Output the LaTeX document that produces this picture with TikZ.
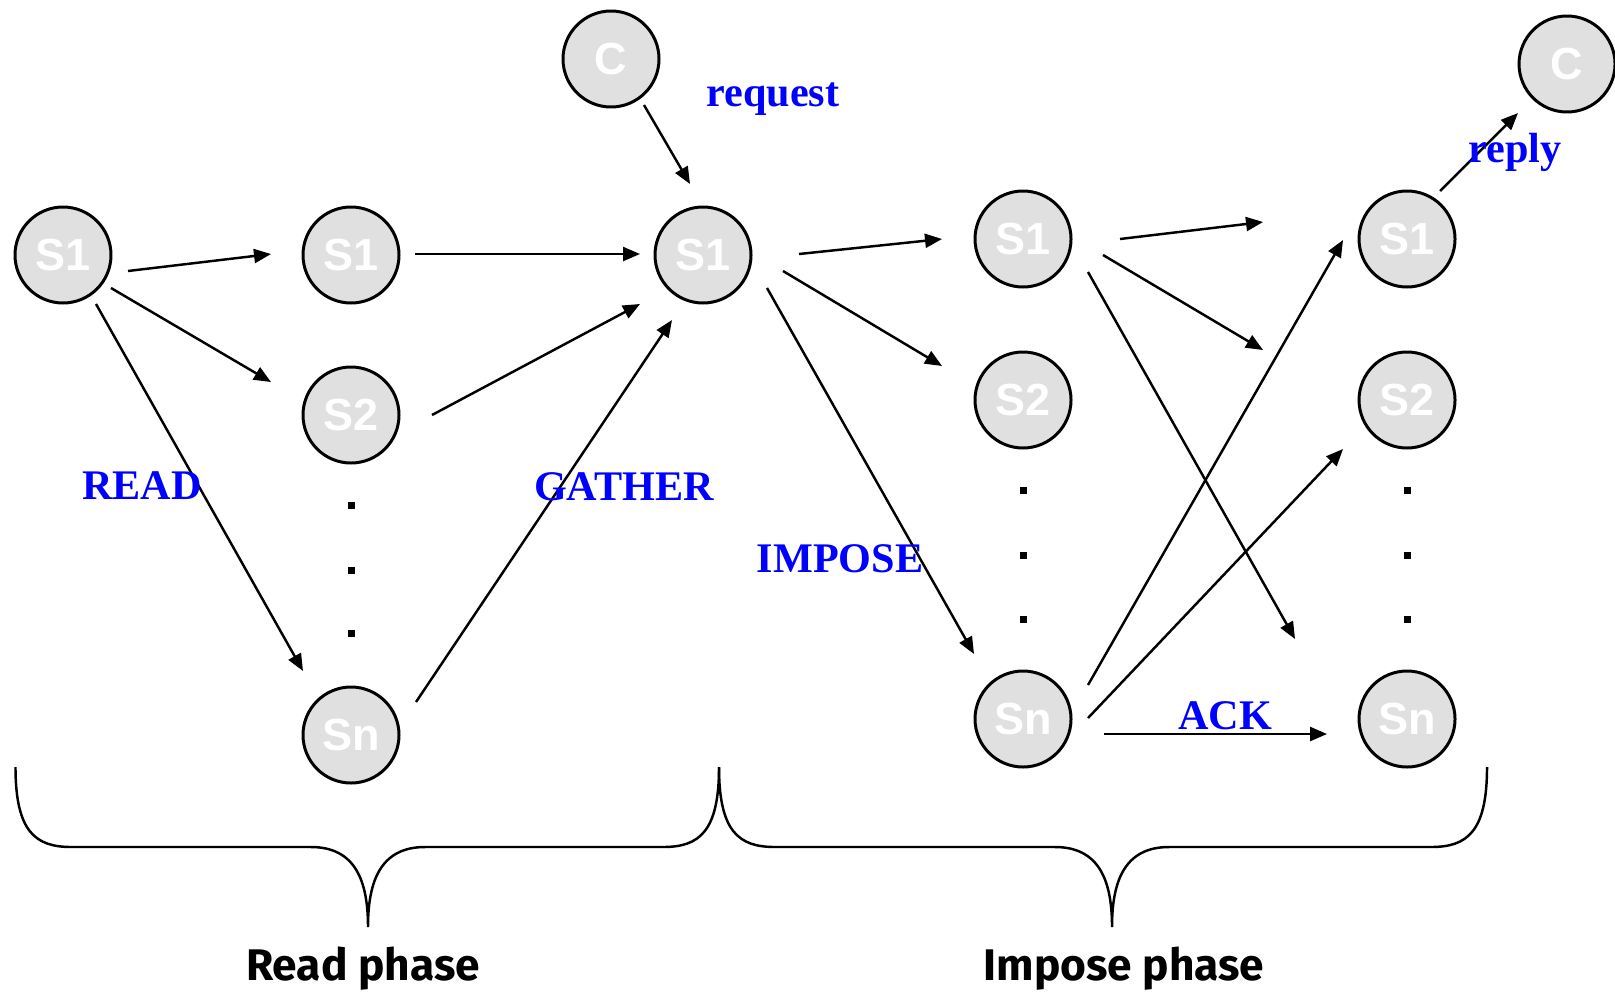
\documentclass[tikz,border=0pt]{standalone}
\usepackage{fontspec}
\setmainfont{Liberation Serif}
\setsansfont{Liberation Sans}
\newfontfamily\phasefont{Fira Sans}
\usepackage{tikz}
\usetikzlibrary{arrows.meta}
\definecolor{NodeGray}{HTML}{E0E0E0}
\definecolor{MsgBlue}{HTML}{0000FF}

\begin{document}
\begin{tikzpicture}[x=1cm,y=1cm,
    srv/.style={circle,draw,line width=0.85pt,fill=NodeGray,minimum size=0.96cm,inner sep=0pt,
      text=white,font=\sffamily\bfseries\fontsize{12.8}{14}\selectfont},
    msg/.style={-{Triangle[length=0.17cm,width=0.14cm]},line width=0.7pt},
    lbl/.style={text=MsgBlue,font=\bfseries\fontsize{12}{14}\selectfont,inner sep=0pt},
    phase/.style={font=\phasefont\bfseries\fontsize{12.6}{15}\selectfont,inner sep=0pt}]
    \useasboundingbox (0,0) rectangle (16.15,9.92);
    % servers and clients
    \node[srv] (sA1) at (0.63,7.37) {S1};
    \node[srv] (sB1) at (3.51,7.37) {S1};
    \node[srv] (sB2) at (3.51,5.77) {S2};
    \node[srv] (sBn) at (3.51,2.57) {Sn};
    \node[srv] (cL) at (6.11,9.33) {C};
    \node[srv] (sC1) at (7.03,7.37) {S1};
    \node[srv] (sD1) at (10.23,7.53) {S1};
    \node[srv] (sD2) at (10.23,5.92) {S2};
    \node[srv] (sDn) at (10.23,2.73) {Sn};
    \node[srv] (sE1) at (14.07,7.53) {S1};
    \node[srv] (sE2) at (14.07,5.92) {S2};
    \node[srv] (sEn) at (14.07,2.73) {Sn};
    \node[srv] (cR) at (15.67,9.28) {C};
    \foreach \y in {4.87,4.22,3.59}
      \fill (3.475,\y-0.035) rectangle ++(0.07,0.07);
    \foreach \y in {5.02,4.37,3.73}{
      \fill (10.195,\y-0.035) rectangle ++(0.07,0.07);
      \fill (14.035,\y-0.035) rectangle ++(0.07,0.07);}
    % read phase
    \draw[msg] ([shift={(0.65,-0.16)}]sA1.center) -- ([shift={(-0.80,0.01)}]sB1.center);
    \draw[msg] ([shift={(0.48,-0.33)}]sA1.center) -- ([shift={(-0.80,0.33)}]sB2.center);
    \draw[msg] ([shift={(0.33,-0.49)}]sA1.center) -- ([shift={(-0.48,0.64)}]sBn.center);
    \draw[msg] ([shift={(0.64,0.01)}]sB1.center) -- ([shift={(-0.63,0.01)}]sC1.center);
    \draw[msg] ([shift={(0.81,0)}]sB2.center) -- ([shift={(-0.63,-0.49)}]sC1.center);
    \draw[msg] ([shift={(0.65,0.33)}]sBn.center) -- ([shift={(-0.31,-0.65)}]sC1.center);
    \draw[msg] ([shift={(0.33,-0.46)}]cL.center) -- ([shift={(-0.13,0.71)}]sC1.center);
    % impose phase
    \draw[msg] ([shift={(0.96,0.01)}]sC1.center) -- ([shift={(-0.81,0)}]sD1.center);
    \draw[msg] ([shift={(0.80,-0.16)}]sC1.center) -- ([shift={(-0.81,0.34)}]sD2.center);
    \draw[msg] ([shift={(0.64,-0.33)}]sC1.center) -- ([shift={(-0.49,0.65)}]sDn.center);
    \draw[msg] ([shift={(0.97,0)}]sD1.center) -- ([shift={(-1.44,0.17)}]sE1.center);
    \draw[msg] ([shift={(0.80,-0.16)}]sD1.center) -- ([shift={(-1.44,0.50)}]sE2.center);
    \draw[msg] ([shift={(0.65,-0.33)}]sD1.center) -- ([shift={(-1.12,0.80)}]sEn.center);
    \draw[msg] ([shift={(0.65,0.34)}]sDn.center) -- ([shift={(-0.64,-0.01)}]sE1.center);
    \draw[msg] ([shift={(0.65,0.01)}]sDn.center) -- ([shift={(-0.64,-0.49)}]sE2.center);
    \draw[msg] ([shift={(0.81,-0.15)}]sDn.center) -- ([shift={(-0.80,-0.15)}]sEn.center);
    \draw[msg] ([shift={(0.33,0.48)}]sE1.center) -- ([shift={(-0.49,-0.49)}]cR.center);
    % labels
    \node[lbl] (tReq) at (7.73,8.93) {request};
    \node[lbl] (tRead) at (1.42,5.06) {READ};
    \node[lbl] (tGat) at (6.24,5.05) {GATHER};
    \node[lbl] (tImp) at (8.40,4.33) {IMPOSE};
    \node[lbl] (tAck) at (12.25,2.76) {ACK};
    \node[lbl] (tRep) at (15.15,8.40) {reply};
    % braces
    \foreach \l/\t/\r in {0.155/3.68/7.19,7.19/11.12/14.87}
      \draw[line width=0.7pt] (\l,2.25) .. controls (\l,1.6) and ({\l+0.2},1.45) .. ({\l+0.56},1.45)
        -- ({\t-0.57},1.45) .. controls ({\t-0.12},1.45) and (\t,1.1) .. (\t,0.65)
        .. controls (\t,1.1) and ({\t+0.12},1.45) .. ({\t+0.57},1.45)
        -- ({\r-0.56},1.45) .. controls ({\r-0.2},1.45) and (\r,1.6) .. (\r,2.25);
    \node[phase] (pRead) at (3.63,0.23) {Read phase};
    \node[phase] (pImp) at (11.24,0.23) {Impose phase};
\end{tikzpicture}
\end{document}
